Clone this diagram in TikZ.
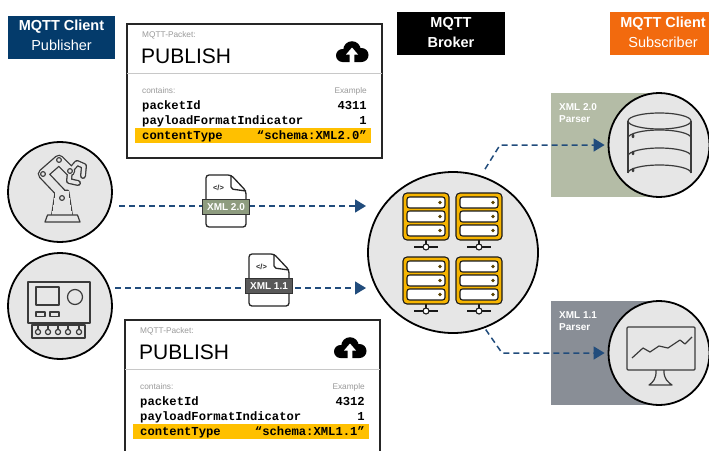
\documentclass[tikz,border=0pt]{standalone}
\usepackage{fontspec}
\setmainfont{Liberation Sans}
\newfontfamily\codefont{Liberation Mono}
\usetikzlibrary{arrows.meta,calc,shapes.geometric}

\definecolor{pubblue}{HTML}{043B6B}
\definecolor{suborange}{HTML}{F26A0E}
\definecolor{highlight}{HTML}{FFC000}
\definecolor{bubblebg}{HTML}{E6E6E6}
\definecolor{flowblue}{HTML}{214C7C}
\definecolor{xmlgreen}{HTML}{8E9C7F}
\definecolor{parsergreen}{HTML}{B4BCA6}
\definecolor{xmldark}{HTML}{595959}
\definecolor{parserslate}{HTML}{898E96}
\definecolor{rackyellow}{HTML}{F7B500}
\definecolor{rackdot}{HTML}{5A4300}
\definecolor{icondark}{HTML}{3A3A3A}
\definecolor{labelgrey}{HTML}{9A9A9A}
\definecolor{sepgrey}{HTML}{C8C8C8}

\tikzset{
  tag/.style={rectangle, inner sep=0pt, minimum height=43pt, text=white},
  tagbold/.style={inner sep=0pt, text=white, font=\bfseries\fontsize{14.5}{14.5}\selectfont},
  tagplain/.style={inner sep=0pt, text=white, font=\fontsize{14.5}{14.5}\selectfont},
  bubble/.style={ellipse, draw=black, line width=1.8pt, fill=bubblebg, inner sep=0pt},
  packetbox/.style={rectangle, draw=black!85, line width=1.6pt, fill=white, inner sep=0pt,
    minimum width=255pt, minimum height=134pt},
  smallgrey/.style={inner sep=0pt, text=labelgrey, font=\fontsize{8.3}{8.3}\selectfont},
  codeline/.style={inner sep=0pt, font=\codefont\bfseries\fontsize{12.2}{12.2}\selectfont},
  flow/.style={draw=flowblue, line width=1.5pt, dash pattern=on 6pt off 4pt,
    -{Triangle[length=11pt,width=13pt]}},
  stem/.style={draw=black!85, line width=1.4pt},
  docline/.style={draw=black!85, line width=1.3pt, line join=round},
  band/.style={rectangle, draw=black!80, line width=1pt, inner sep=0pt, minimum width=47pt,
    minimum height=15pt, text=white, font=\bfseries\fontsize{10}{10}\selectfont},
  parsertxt/.style={inner sep=0pt, text=white, font=\bfseries\fontsize{10}{10}\selectfont},
  rackline/.style={draw=black!90, line width=1.1pt},
  iconline/.style={draw=icondark, line width=1.2pt, line join=round},
  joint/.style={draw=icondark, line width=1.1pt, fill=bubblebg},
}

% One MQTT PUBLISH packet card: #1 name, #2 top-left corner, #3 packet id, #4 content type
\newcommand{\mqttpacket}[4]{%
  \begin{scope}[shift={#2}]
    \node[packetbox] (#1) at (127.5,67) {};
    \draw[sepgrey, line width=0.9pt] (0,49) -- (255,49);
    \node[smallgrey, anchor=base west] (#1-kind) at (15,13.5) {MQTT-Packet:};
    \node[inner sep=0pt, anchor=base west, font=\fontsize{21}{21}\selectfont] (#1-title) at (14,39) {PUBLISH};
    % upload cloud
    \fill[black] (215.5,31.5) circle (6.5pt) (225,26) circle (8.8pt) (234.5,31) circle (7pt)
      (215.5,31) rectangle (234.5,38);
    \fill[white] (222.7,39) -- (222.7,30.5) -- (219,30.5) -- (225,23.5) -- (231,30.5)
      -- (227.3,30.5) -- (227.3,39) -- cycle;
    \node[smallgrey, anchor=base west] (#1-contains) at (15,69.5) {contains:};
    \node[smallgrey, anchor=base east] (#1-example) at (240,69.5) {Example};
    \fill[highlight] (7.5,104) rectangle (244,119);
    \node[codeline, anchor=base west] (#1-k1) at (15,85.5) {packetId};
    \node[codeline, anchor=base east] (#1-v1) at (240,85.5) {#3};
    \node[codeline, anchor=base west] (#1-k2) at (15,100.5) {payloadFormatIndicator};
    \node[codeline, anchor=base east] (#1-v2) at (240,100.5) {1};
    \node[codeline, anchor=base west] (#1-k3) at (15,115.5) {contentType};
    \node[codeline, anchor=base east] (#1-v3) at (240,115.5) {“#4”};
  \end{scope}}

% An XML document icon with its version band: #1 name, #2 top-left, #3 label, #4 band colour
\newcommand{\xmldoc}[4]{%
  \begin{scope}[shift={#2}]
    \node[inner sep=0pt, minimum width=40pt, minimum height=52pt] (#1) at (20,26) {};
    \draw[docline, fill=white, rounded corners=3pt] (25,0) -- (0,0) -- (0,52) -- (40,52) -- (40,16) -- cycle;
    \draw[docline, rounded corners=2pt] (25,0) -- (25,14) -- (40,16);
    \node[inner sep=0pt, font=\bfseries\fontsize{7.5}{7.5}\selectfont, text=black!85] (#1-code) at (12.5,13) {</>};
    \node[band, fill=#4] (#1-tag) at (20,32) {#3};
  \end{scope}}

% A yellow server rack with its network tap below: #1 top-left
\newcommand{\rackunit}[1]{%
  \begin{scope}[shift={#1}]
    \draw[rackline] (23,47) -- (23,54);
    \draw[rackline] (11,54) -- (35,54);
    \filldraw[rackline, fill=white] (23,54) circle (3pt);
    \filldraw[rackline, fill=rackyellow, rounded corners=4pt] (0,0) rectangle (46,47);
    \foreach \s in {4,18,32} {
      \filldraw[rackline, fill=white, rounded corners=2.5pt] (4,\s) rectangle (42,\s+11);
      \fill[rackdot] (37,\s+5.5) circle (1.8pt);
    }
  \end{scope}}

% Robot arm silhouette, drawn twice to get a merged outline
\newcommand{\robotarm}[2]{%
  \filldraw[#1, line width=#2, line join=round] (52.5,214) -- (56,191) -- (68,191) -- (71.5,214) -- cycle;
  \draw[#1, line width=8pt+#2, line cap=round, line join=round] (61,193) -- (43,174) -- (59,160) -- (70,171);
  \draw[#1, line width=3.4pt+#2, line cap=round, line join=round] (70,171) -- (77,163) -- (84,166) -- (83,176);
  \draw[#1, line width=3.4pt+#2, line cap=round, line join=round] (70,171) -- (69,181) -- (78,183);
}

\begin{document}
\begin{tikzpicture}[x=1pt, y=-1pt]
  \useasboundingbox (0,0) rectangle (709,450);
  \fill[white] (0,0) rectangle (709,450);
  \clip (0,0) rectangle (709,450);

  % ---------- column headers ----------
  \node[tag, fill=pubblue, minimum width=107pt] (pubtag) at (61.5,37) {};
  \node[tagbold] (pubtag-a) at (61.5,27) {MQTT Client};
  \node[tagplain] (pubtag-b) at (61.5,45) {Publisher};

  \node[tag, fill=black, minimum width=108pt] (brokertag) at (451,33.5) {};
  \node[tagbold] (brokertag-a) at (451,24) {MQTT};
  \node[tagbold] (brokertag-b) at (451,42) {Broker};

  \node[tag, fill=suborange, minimum width=108pt] (subtag) at (664,33.5) {};
  \node[tagbold] (subtag-a) at (663,24) {MQTT Client};
  \node[tagplain] (subtag-b) at (663,42) {Subscriber};

  % ---------- subscriber side: parser panels ----------
  \fill[parsergreen] (551,93) rectangle (665,197);
  \node[parsertxt, anchor=base west] (p20-a) at (559,110) {XML 2.0};
  \node[parsertxt, anchor=base west] (p20-b) at (559,122) {Parser};
  \fill[parserslate] (551,301) rectangle (665,405);
  \node[parsertxt, anchor=base west] (p11-a) at (559,318) {XML 1.1};
  \node[parsertxt, anchor=base west] (p11-b) at (559,330) {Parser};

  % ---------- client bubbles ----------
  \node[bubble, minimum width=104pt, minimum height=100pt] (robot) at (60,192) {};
  \node[bubble, minimum width=104pt, minimum height=106pt] (panel) at (60,306) {};
  \node[bubble, minimum width=170pt, minimum height=161pt] (broker) at (453,252.5) {};
  \node[bubble, minimum width=101pt, minimum height=104pt] (db) at (659,145) {};
  \node[bubble, minimum width=101pt, minimum height=104pt] (mon) at (659,353) {};

  % robot arm icon
  \robotarm{icondark}{2.6pt}
  \robotarm{bubblebg}{0pt}
  \filldraw[joint] (43,174) circle (2.4pt);
  \filldraw[joint] (59,160) circle (2.4pt);
  \filldraw[joint] (70,171) circle (2.4pt);
  \filldraw[joint] (62,198) circle (2.4pt);
  \filldraw[iconline, fill=bubblebg] (45,222) -- (47.5,215) -- (77.5,215) -- (80,222) -- cycle;

  % control panel icon
  \filldraw[iconline, fill=bubblebg] (28,282) rectangle (90,323);
  \draw[iconline] (36,287) rectangle (59,305);
  \draw[iconline] (75,297) circle (7.5pt);
  \draw[iconline] (36,312) rectangle (45,316.5);
  \draw[iconline] (50,312) rectangle (59,316.5);
  \draw[iconline] (32,325) rectangle (85,338);
  \foreach \cx in {38,48,58,68,79} {
    \draw[iconline] (\cx,325) -- (\cx,329);
    \draw[iconline] (\cx,332) circle (2.6pt);
  }

  % database icon
  \begin{scope}[iconline]
    \draw (628,121) -- (628,173) (691,121) -- (691,173);
    \draw (659.5,121) ellipse (31.5pt and 8pt);
    \draw (628,138) arc[start angle=180, end angle=360, x radius=31.5pt, y radius=-8pt];
    \draw (628,156) arc[start angle=180, end angle=360, x radius=31.5pt, y radius=-8pt];
    \draw (628,173) arc[start angle=180, end angle=360, x radius=31.5pt, y radius=-8pt];
  \end{scope}
  \foreach \dy in {136,153,170}
    \fill[icondark] (633,\dy) ellipse (1.4pt and 2.2pt);

  % monitor icon
  \draw[iconline, rounded corners=1pt] (627,327) rectangle (695,370);
  \draw[iconline] (632,358) -- (643,348) -- (650,352) -- (659,346) -- (668,348) -- (680,340) -- (685,344) -- (692,337);
  \draw[iconline] (656,370) .. controls (656.5,379) and (653,382) .. (649,385) -- (672,385)
    .. controls (668,382) and (663.5,379) .. (664,370);

  % broker server racks
  \rackunit{(403,193)}
  \rackunit{(456,193)}
  \rackunit{(403,257)}
  \rackunit{(456,257)}

  % ---------- message flows ----------
  \coordinate (f1s) at (119,206);
  \coordinate (f1e) at (366,206);
  \coordinate (f2s) at (115,288);
  \coordinate (f2e) at (366,288);
  \draw[flow] (f1s) -- (f1e);
  \draw[flow] (f2s) -- (f2e);

  \coordinate (bend1) at (500,145);
  \coordinate (bend2) at (502,353);
  \draw[flow, shorten >=3pt] ($(broker.center)!1.09!(broker.69)$) -- (bend1) -- (db);
  \draw[flow, shorten >=3pt] ($(broker.center)!1.02!(broker.-67)$) -- (bend2) -- (mon);

  % ---------- packets and payload documents ----------
  \mqttpacket{pkt1}{(127,24)}{4311}{schema:XML2.0}
  \mqttpacket{pkt2}{(125,320)}{4312}{schema:XML1.1}

  \xmldoc{doc1}{(206,175)}{XML 2.0}{xmlgreen}
  \xmldoc{doc2}{(249,254)}{XML 1.1}{xmldark}

  \draw[stem] ($(doc1.north west)!0.45!(doc1.north east)$) -- ($(doc1.north west)!0.45!(doc1.north east)$ |- pkt1.south);
  \draw[stem] ($(doc2.south west)!0.4!(doc2.south east)$) -- ($(doc2.south west)!0.4!(doc2.south east)$ |- pkt2.north);
\end{tikzpicture}
\end{document}
